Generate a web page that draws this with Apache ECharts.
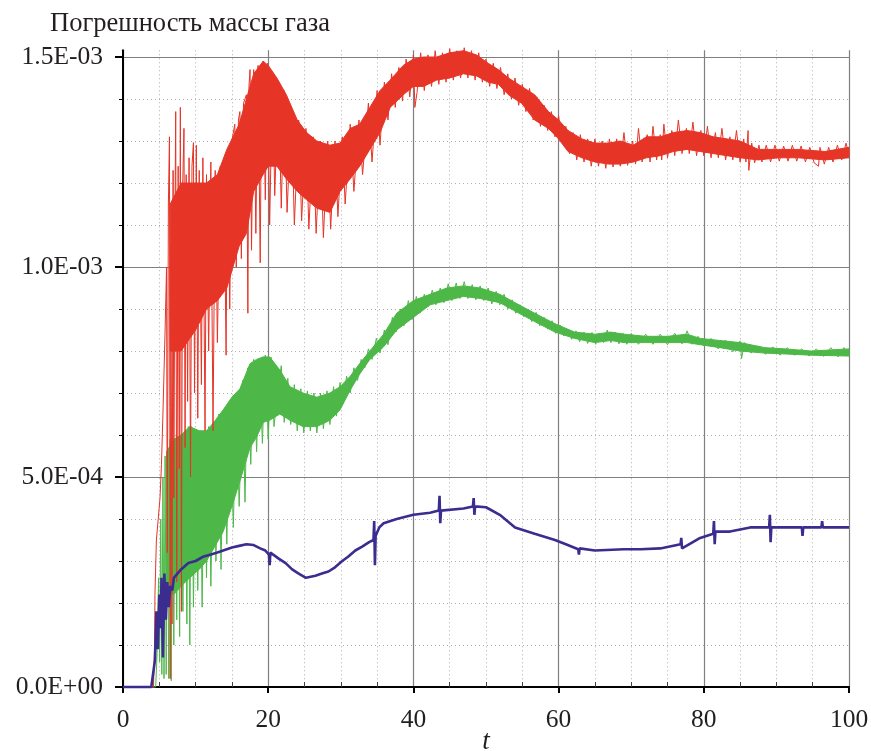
<!DOCTYPE html>
<html><head><meta charset="utf-8">
<script src="https://cdn.jsdelivr.net/npm/echarts@6/dist/echarts.min.js"></script>
<style>html,body{margin:0;padding:0;background:#fff}#c{width:871px;height:751px}</style>
</head><body><div id="c"></div>
<script>
// values are stored in units of 1e-4
const SCALE = 1e-4;
const titleText = 'Погрешность массы газа';
const xName = 't';
const xMajorTicks = [0, 20, 40, 60, 80, 100];
const xMinorTicks = [5,10,15,25,30,35,45,50,55,65,70,75,85,90,95];
const yTicks = [0, 5, 10, 15];
const yMinorTicks = [1,2,3,4,6,7,8,9,11,12,13,14];
const yMax = 15.16;

// red: dense band (upper/lower envelope) + spiky trace
const redT  = [6.5,8,10,11.5,13,14.3,16,17,18,19.3,20,21.2,22.5,24,25.3,26.7,28.5,29.9,31.3,32.6,34,35.4,36.8,38.6,40,41.4,43.2,45,46.9,48.7,50.3,51.7,53.1,54.9,56.7,58.6,60,61.3,63.2,65,66.9,68.5,70.3,72.1,74,75.8,77.7,79.5,81.3,83.2,85,87.5,90.3,93,96.7,100];
const redHi = [11.5,12.0,12.0,12.0,12.2,12.8,13.4,14.0,14.6,14.9,14.8,14.5,14.1,13.5,13.2,13.0,12.9,12.95,13.3,13.4,13.8,14.2,14.45,14.8,14.95,15.0,15.0,15.1,15.15,15.05,14.85,14.7,14.5,14.3,14.1,13.7,13.5,13.25,13.05,12.95,12.95,13.0,12.9,13.1,13.1,13.2,13.25,13.2,13.1,13.05,13.0,12.8,12.8,12.8,12.75,12.85];
const redLo = [8.0,8.0,8.5,9.0,9.2,9.5,10.5,10.8,11.8,12.2,12.4,12.4,12.1,11.8,11.6,11.4,11.3,11.8,12.1,12.4,12.8,13.2,13.8,14.1,14.3,14.3,14.45,14.5,14.6,14.55,14.4,14.35,14.1,13.9,13.5,13.3,13.05,12.75,12.6,12.5,12.45,12.45,12.5,12.6,12.65,12.75,12.8,12.75,12.7,12.65,12.6,12.55,12.6,12.6,12.55,12.6];
const redTrace = [[0,0],[4.2,0],[4.35,1.0],[4.4,2.2],[4.6,3.5],[5.1,4.5],[5.3,5.3],[5.5,6.5],[5.8,8.5],[6.0,10.0],[6.1,3.2],[6.25,11.5],[6.4,13.1],[6.5,0.2],[6.6,10.5],[6.75,1.5],[6.9,12.3],[7.0,4.5],[7.15,11.0],[7.26,13.7],[7.4,2.5],[7.6,12.4],[7.75,5.2],[7.9,13.8],[8.05,1.8],[8.2,11.8],[8.4,13.3],[8.55,5.7],[8.7,12.2],[8.9,6.8],[9.1,12.6],[9.3,5.0],[9.5,12.4],[9.7,12.96],[9.85,7.0],[10.1,12.9],[10.3,6.4],[10.5,12.3],[10.8,7.2],[11.0,12.6],[11.3,6.1],[11.5,12.2],[11.8,8.0],[12.1,12.5],[12.4,6.1],[12.7,12.3],[13.0,8.2],[13.4,12.4],[13.6,9.6],[13.9,12.6],[14.2,7.9],[14.4,12.8],[14.7,9.0],[15.0,13.0],[15.4,13.4],[15.6,10.0],[15.9,13.5],[16.1,13.7],[16.3,10.2],[16.6,13.9],[17.0,14.1],[17.2,8.9],[17.35,14.3],[17.5,14.7],[17.7,10.4],[18.0,14.7],[18.3,10.8],[18.6,14.8],[18.9,10.1],[19.1,14.6],[19.3,14.9],[19.6,11.6],[19.9,14.85],[20.2,11.0],[20.6,14.6],[20.9,11.7],[21.4,14.4],[21.8,11.4],[22.2,14.2],[22.6,11.3],[23.2,13.8],[23.6,11.0],[24.2,13.5],[24.6,11.1],[25.2,13.3],[25.6,10.9],[26.2,13.1],[26.6,10.8],[27.2,13.0],[27.6,10.7],[28.2,13.0],[28.6,10.9],[29.2,13.0],[29.6,11.2],[30.2,13.1],[30.6,11.5],[31.3,13.4],[31.8,11.8],[32.5,13.5],[33.0,12.2],[33.8,13.9],[34.3,12.5],[35.0,14.2],[35.4,12.9],
  [36.0,14.4],[36.5,13.5],[37.0,14.6],[37.5,13.8],[38.0,14.75],[38.5,13.95],[39.0,14.95],[39.5,14.05],[40.0,15.05],[40.2,13.8],[40.5,14.15],[41.0,15.1],[41.5,14.2],[42.0,15.05],[42.5,14.3],[43.0,15.15],[43.5,14.35],[44.0,15.1],[44.5,14.4],[45.0,15.2],[45.5,14.45],[46.0,15.15],[46.5,14.5],[47.0,15.22],[47.5,14.5],[48.0,15.15],[48.5,14.45],[49.0,15.1],[49.5,14.4],[50.0,14.95],[50.5,14.3],[51.0,14.85],[51.5,14.25],[52.0,14.75],[52.5,14.1],[53.0,14.6],[53.5,14.0],[54.0,14.5],[54.5,13.85],[55.0,14.35],[55.5,13.7],[56.0,14.25],[56.5,13.5],[57.0,14.05],[57.5,13.35],[58.0,13.85],[58.5,13.25],[59.0,13.7],[59.5,13.1],[60.0,13.6],[60.5,12.95],[61.0,13.35],[61.5,12.7],[62.0,13.2],[62.5,12.55],[63.0,13.15],[63.5,12.5],[64.0,13.05],[64.5,12.4],[65.0,13.05],[65.5,12.4],[66.0,13.0],[66.5,12.35],[67.0,13.05],[67.5,12.38],[68.0,13.05],[68.5,12.4],
  [69.0,13.2],[69.5,12.42],[70.2,13.0],[70.6,12.45],[71.0,13.3],[71.5,12.5],[72.2,13.15],[72.6,12.5],[73.0,13.35],[73.5,12.55],[74.0,13.15],[74.2,12.55],[74.5,13.4],[75.0,12.6],[75.6,13.25],[76.0,12.65],[76.5,13.5],[77.0,12.7],[77.6,13.3],[78.0,12.7],[78.5,13.45],[79.0,12.65],[79.6,13.25],[80.0,12.65],[80.5,13.35],[81.0,12.6],[81.6,13.2],[82.0,12.6],[82.5,13.3],[83.0,12.55],[83.6,13.1],[84.0,12.55],[84.5,13.25],[85.0,12.5],[85.5,13.05],[85.8,12.5],[86.1,13.25],[86.2,12.3],[86.6,12.95],[87.0,12.48],[87.6,12.9],[88,12.5],[88.6,12.9],[89.2,12.5],[89.8,12.9],[90.4,12.52],[91,12.88],[91.6,12.52],[92.2,12.9],[92.8,12.52],[93.4,12.88],[94,12.5],[94.6,12.85],[95.2,12.48],[95.8,12.4],[96.0,12.85],[96.6,12.45],[97.2,12.85],[97.8,12.5],[98.4,12.9],[99,12.55],[99.6,12.95],[100,12.65]];

// green
const greenT  = [6,7,8,9.2,10.5,11.5,12.5,13.8,15,16.1,17.5,18.4,19.3,20.2,21.6,23,24.8,26.7,28.5,29.9,31.3,32.6,34,35.9,37.7,40,42.3,44.6,46.9,49.2,51.9,54,56.7,59.5,62.2,65,67.2,69,72,75,77.7,79.5,82.2,85,88.4,91.2,94.8,100];
const greenHi = [5.6,5.9,6.0,6.2,6.1,6.1,6.3,6.6,6.9,7.1,7.7,7.8,7.86,7.86,7.55,7.15,7.0,6.9,7.0,7.15,7.4,7.7,8.0,8.4,8.9,9.2,9.35,9.5,9.55,9.5,9.35,9.15,8.9,8.65,8.45,8.4,8.45,8.4,8.35,8.35,8.4,8.3,8.25,8.2,8.08,8.05,8.0,8.05];
const greenLo = [2.3,2.2,2.4,2.6,2.8,3.0,3.3,3.7,4.3,4.9,5.7,5.95,6.3,6.35,6.5,6.35,6.2,6.2,6.35,6.6,7.07,7.45,7.8,8.1,8.5,8.8,9.1,9.2,9.3,9.25,9.15,8.95,8.7,8.45,8.3,8.2,8.25,8.2,8.2,8.2,8.2,8.15,8.08,8.0,7.95,7.93,7.9,7.88];
const greenTrace = [[0,0],[4.5,0],[4.7,0.8],[4.9,2.6],[5.05,0.6],[5.2,4.0],[5.35,0.3],[5.5,5.0],[5.65,0.2],[5.8,5.5],[5.95,0.3],[6.1,5.6],[6.3,0.2],[6.5,5.9],[6.65,0.15],[6.8,5.8],[7.0,1.0],[7.2,5.9],[7.4,1.6],[7.6,5.8],[7.8,1.2],[8.0,6.0],[8.25,1.8],[8.5,6.1],[8.8,1.5],[9.0,6.2],[9.2,1.0],[9.45,6.2],[9.7,1.9],[10.0,6.1],[10.3,2.3],[10.6,6.1],[10.9,1.9],[11.2,6.0],[11.5,2.6],[11.8,6.2],[12.1,2.4],[12.5,6.3],[12.8,3.0],[13.2,6.5],[13.5,2.8],[13.9,6.6],[14.3,3.4],[14.7,6.8],[15.2,3.8],[15.6,7.0],[16.0,4.3],[16.5,7.3],[16.8,4.4],[17.2,7.6],[17.6,5.3],[18.0,7.8],[18.4,5.6],[18.8,7.8],[19.2,5.8],[19.6,7.9],[20.0,5.9],[20.4,7.85],[20.8,6.2],[21.3,7.0],
  [21.8,7.65],[22.2,6.3],[22.7,7.35],[23.1,6.25],[23.6,7.2],[24.0,6.1],[24.5,7.1],[24.9,6.05],[25.4,7.05],[25.8,6.1],[26.3,7.0],[26.7,6.05],[27.2,7.0],[27.6,6.15],[28.1,7.05],[28.5,6.25],[29.0,7.15],[29.4,6.45],[29.9,7.25],[30.3,6.75],[30.8,7.4],[31.3,7.0],[31.8,7.6],[32.3,7.3],[32.8,7.8],[33.3,7.6],[33.8,8.05],[34.3,7.8],[34.9,8.3],[35.4,7.95],[36,8.5],[36.5,8.15],[37.1,8.8],[37.6,8.45],[38.2,9.0],[38.7,8.6],[39.3,9.2],[39.8,8.75],[40.4,9.3],[40.9,8.9],[41.5,9.35],[42,9.05],[42.6,9.45],[43.1,9.1],[43.7,9.5],[44.2,9.15],[44.8,9.6],[45.3,9.2],[45.9,9.62],[46.4,9.25],[47,9.65],[47.5,9.25],[48.1,9.58],[48.6,9.22],[49.2,9.55],[49.7,9.2],[50.3,9.5],[50.8,9.12],[51.4,9.42],[51.9,9.1],[52.5,9.35],[53,9.0],[53.6,9.22],[54.1,8.9],[54.7,9.1],[55.2,8.82],[55.8,9.0],[56.3,8.7],[56.9,8.92],[57.4,8.6],[58,8.8],[58.5,8.52],[59.1,8.72],[59.6,8.42],[60.2,8.62],[60.7,8.36],[61.3,8.52],[61.8,8.28],[62.4,8.48],[62.9,8.22],[63.5,8.45],[64,8.18],[64.6,8.44],[65.1,8.16],[65.7,8.42],[66.2,8.2],[66.7,8.5],[67.2,8.2],[67.8,8.45],[68.3,8.17],[68.9,8.42],[69.4,8.16],[70,8.42],[71,8.16],[72,8.4],[73,8.16],[74,8.4],[75,8.15],[76,8.42],[77,8.17],[77.7,8.48],[78.4,8.16],[79.2,8.35],[80,8.12],[81,8.3],[82,8.05],[83,8.26],[84,7.98],[85,8.24],[85.2,7.82],[85.6,8.2],[86.5,7.95],[87.5,8.12],[88.5,7.92],[89.5,8.1],[90.5,7.9],[91.5,8.08],[92.5,7.9],[93.5,8.05],[94.5,7.88],[95.5,8.05],[96.5,7.87],[97.5,8.08],[98.5,7.86],[99.3,8.08],[100,7.9]];

// blue
const blueTrace = [[0,0],[3.9,0],[4.4,0.64],[4.6,1.8],[4.8,0.9],[5.0,2.2],[5.2,1.4],[5.3,2.6],[5.5,0.7],[5.7,2.7],[5.9,1.6],[6.1,2.5],[6.3,1.9],[6.5,2.4],[6.8,2.3],[7.0,2.6],[7.5,2.7],[8,2.8],[9,2.95],[10,3.0],[11,3.1],[12,3.15],[13,3.2],[14,3.26],[15,3.32],[16,3.36],[17,3.4],[18,3.38],[18.9,3.3],[19.6,3.25],[20.1,3.15],[20.2,2.9],[20.3,3.2],[21.5,3.05],[22.4,2.95],[23.3,2.8],[24.2,2.7],[25.2,2.6],[26.5,2.65],[27.4,2.7],[28.3,2.75],[29.2,2.85],[30.2,3.0],[31,3.1],[32,3.25],[33,3.35],[33.9,3.45],[34.5,3.5],[34.6,3.95],[34.7,2.9],[34.8,3.6],[35.3,3.8],[35.9,3.9],[37.7,4.0],[40,4.1],[42.3,4.15],[43.5,4.2],[43.6,4.55],[43.7,3.9],[43.8,4.2],[46.9,4.25],[48.2,4.3],[48.3,4.5],[48.4,4.1],[48.5,4.3],[50,4.28],[51.9,4.1],[54,3.8],[56.7,3.65],[59.5,3.5],[61,3.4],[62.7,3.28],[62.8,3.15],[62.9,3.3],[65,3.25],[69,3.28],[71.3,3.28],[74,3.3],[76.8,3.4],[76.9,3.55],[77,3.3],[79.5,3.55],[81.3,3.65],[81.4,3.95],[81.5,3.4],[81.6,3.7],[83.6,3.7],[86.4,3.8],[89.0,3.8],[89.1,4.1],[89.2,3.45],[89.3,3.8],[93.5,3.8],[93.6,3.6],[93.7,3.8],[96.2,3.8],[96.3,3.95],[96.4,3.8],[100,3.8]];

const RED = '#e63427', GREEN = '#4db848', BLUE = '#3a2d8f';
const FONT = 'Liberation Serif';
const TXT = '#231f20';

function fmtE(v) {
  const s = Number(v).toExponential(1);
  const parts = s.split('e');
  const n = parseInt(parts[1], 10);
  return parts[0] + 'E' + (n < 0 ? '-' : '+') + String(Math.abs(n)).padStart(2, '0');
}
const sc = a => a.map(v => v * SCALE);
const scPts = pts => pts.map(p => [p[0], p[1] * SCALE]);

function bandSeries(T, HI, LO, color, z) {
  const data = T.map((t, i) => [t, LO[i] * SCALE, HI[i] * SCALE]);
  return {
    type: 'custom', z: z, silent: true, animation: false,
    encode: { x: 0, y: [1, 2] },
    data: data,
    renderItem: function (params, api) {
      if (params.dataIndex !== 0) return null;
      const pts = [];
      for (let i = 0; i < data.length; i++) pts.push(api.coord([data[i][0], data[i][2]]));
      for (let i = data.length - 1; i >= 0; i--) pts.push(api.coord([data[i][0], data[i][1]]));
      return { type: 'polygon', shape: { points: pts }, style: { fill: color, stroke: color, lineWidth: 1 } };
    }
  };
}
function traceSeries(pts, color, width, z) {
  return {
    type: 'line', z: z, data: scPts(pts), showSymbol: false, symbol: 'none',
    sampling: null, clip: false, silent: true, animation: false,
    lineStyle: { color: color, width: width }
  };
}

const chart = echarts.init(document.getElementById('c'), null, { renderer: 'canvas' });
chart.setOption({
  animation: false,
  backgroundColor: '#fff',
  title: {
    text: titleText, left: 45, top: 6,
    textStyle: { fontFamily: FONT, fontSize: 26.5, fontWeight: 'normal', color: TXT }
  },
  grid: { left: 123, right: 22, top: 687 - yMax * 42, bottom: 64, containLabel: false, outerBoundsMode: 'none' },
  xAxis: [{
    type: 'value', min: 0, max: 100, interval: 20,
    name: xName, nameLocation: 'middle', nameGap: 41, nameMoveOverlap: false,
    nameTextStyle: { fontFamily: FONT, fontSize: 27, fontStyle: 'italic', color: TXT },
    axisLine: { show: true, onZero: false, lineStyle: { color: '#000', width: 2 } },
    axisTick: { show: true, customValues: xMajorTicks, length: 6, lineStyle: { color: '#000', width: 2 } },
    axisLabel: { customValues: xMajorTicks, fontFamily: FONT, fontSize: 25.5, color: TXT, margin: 20 },
    splitLine: { show: true, lineStyle: { color: '#7f7f7f', width: 1.2 } },
    minorTick: { show: false }, minorSplitLine: { show: false }
  }, {
    type: 'value', min: 0, max: 100, interval: 5, position: 'bottom',
    axisLine: { show: false }, axisLabel: { show: false },
    axisTick: { show: true, inside: true, customValues: xMinorTicks, length: 5, lineStyle: { color: '#444', width: 1 } },
    splitLine: { show: true, lineStyle: { color: '#b0b0b0', width: 1, type: [1, 3] } }
  }],
  yAxis: [{
    type: 'value', min: 0, max: yMax * SCALE, interval: 5 * SCALE,
    axisLine: { show: true, onZero: false, lineStyle: { color: '#000', width: 2 } },
    axisTick: { show: true, customValues: sc(yTicks), length: 8, lineStyle: { color: '#000', width: 2 } },
    axisLabel: { customValues: sc(yTicks), formatter: fmtE, fontFamily: FONT, fontSize: 25.5, color: TXT, margin: 20 },
    splitLine: { show: true, lineStyle: { color: '#7f7f7f', width: 1.2 } },
    minorTick: { show: false }, minorSplitLine: { show: false }
  }, {
    type: 'value', min: 0, max: yMax * SCALE, interval: 1 * SCALE, position: 'left', offset: 0,
    axisLine: { show: false }, axisLabel: { show: false },
    axisTick: { show: true, customValues: sc(yMinorTicks), length: 4, lineStyle: { color: '#000', width: 1 } },
    splitLine: { show: true, lineStyle: { color: '#b0b0b0', width: 1, type: [1, 3] } }
  }],
  series: [
    bandSeries(greenT, greenHi, greenLo, GREEN, 2),
    traceSeries(greenTrace, GREEN, 1, 3),
    bandSeries(redT, redHi, redLo, RED, 4),
    traceSeries(redTrace, RED, 1, 5),
    traceSeries(blueTrace, BLUE, 2.6, 6)
  ]
});
</script></body></html>
